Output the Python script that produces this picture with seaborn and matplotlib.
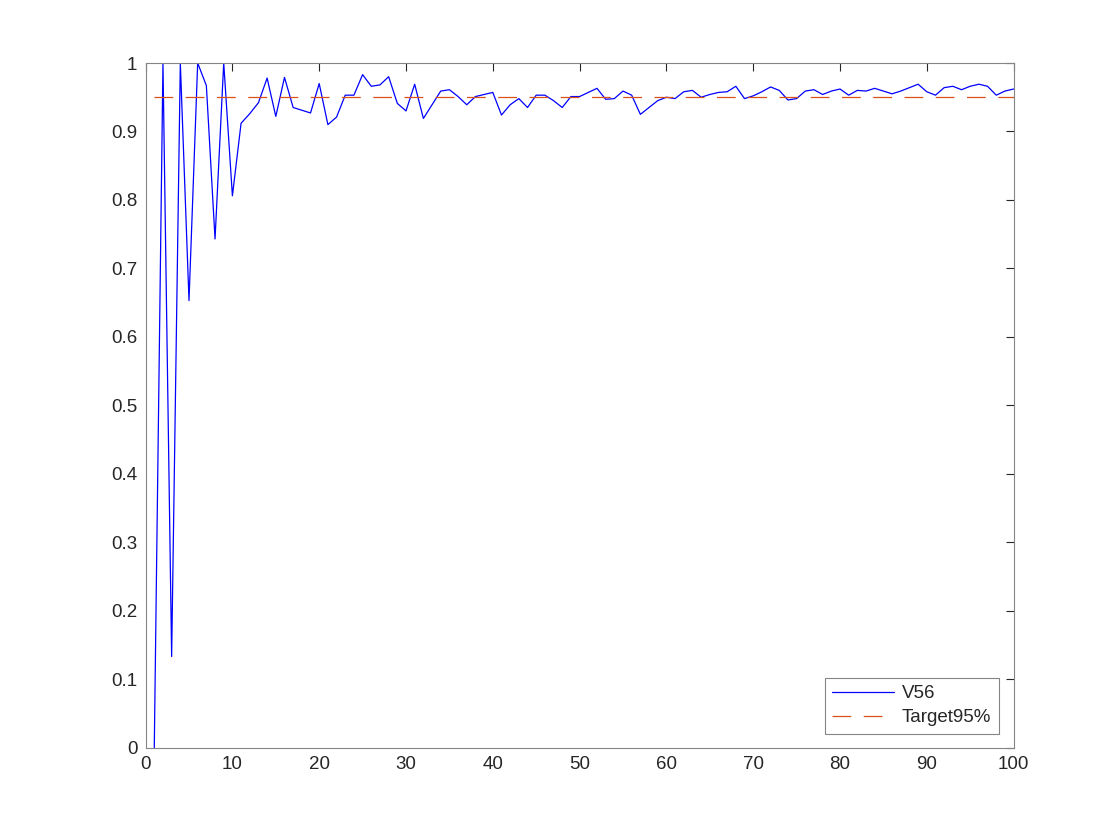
import numpy as np
import pandas as pd
import matplotlib
matplotlib.use("Agg")
import matplotlib.pyplot as plt
import seaborn as sns

# coverage values per step
steps = list(range(1, 101))
v56 = [0.000, 1.000, 0.133, 1.000, 0.653, 1.000, 0.967, 0.743, 1.000, 0.806,
       0.912, 0.926, 0.942, 0.978, 0.922, 0.979, 0.935, 0.931, 0.927, 0.970,
       0.910, 0.921, 0.953, 0.953, 0.983, 0.966, 0.968, 0.980, 0.941, 0.930,
       0.969, 0.919, 0.939, 0.959, 0.961, 0.951, 0.939, 0.951, 0.954, 0.957,
       0.924, 0.939, 0.948, 0.935, 0.953, 0.953, 0.945, 0.935, 0.951, 0.951,
       0.957, 0.963, 0.947, 0.948, 0.959, 0.953, 0.925, 0.935, 0.945, 0.950,
       0.948, 0.958, 0.960, 0.950, 0.954, 0.957, 0.958, 0.966, 0.948, 0.952,
       0.958, 0.965, 0.960, 0.946, 0.948, 0.959, 0.961, 0.954, 0.959, 0.962,
       0.953, 0.960, 0.959, 0.963, 0.959, 0.955, 0.959, 0.964, 0.969, 0.958,
       0.953, 0.964, 0.966, 0.961, 0.966, 0.969, 0.966, 0.953, 0.959, 0.962]
target = 0.95

df = pd.DataFrame({'step': steps, 'V56': v56, 'Target95%': [target] * len(steps)})

sns.set_style('white')
plt.rcParams['font.family'] = ['Liberation Sans', 'DejaVu Sans']

fig = plt.figure(figsize=(11.2, 8.4), dpi=100)
ax = fig.add_axes([0.13, 0.11, 0.775, 0.815])

sns.lineplot(data=df, x='step', y='V56', ax=ax, color='#0000ff', linewidth=0.9, label='V56')
sns.lineplot(data=df, x='step', y='Target95%', ax=ax, color='#d95319', linewidth=0.9,
             dashes=False, label='Target95%')
ax.lines[-1].set_dashes([15, 10])

ax.set_xlim(0, 100)
ax.set_ylim(0, 1)
ax.set_xticks(np.arange(0, 101, 10))
ax.set_yticks(np.arange(0, 1.01, 0.1))
ax.set_yticklabels(['0', '0.1', '0.2', '0.3', '0.4', '0.5', '0.6', '0.7', '0.8', '0.9', '1'])
ax.set_xlabel('')
ax.set_ylabel('')

for s in ax.spines.values():
    s.set_color('#858585')
    s.set_linewidth(0.8)
ax.tick_params(direction='in', length=6, width=0.8, color='#262626',
               labelsize=13.5, labelcolor='#262626', top=True, right=True, pad=6)

leg = ax.legend(loc='lower right', bbox_to_anchor=(0.9827, 0.0204), borderaxespad=0,
                fontsize=13.5, frameon=True, fancybox=False, edgecolor='#858585',
                framealpha=1, handlelength=3.3, borderpad=0.4, labelspacing=0.35,
                handletextpad=0.4)
leg.get_frame().set_linewidth(0.8)

fig.savefig('out.png', dpi=100, facecolor='white')
